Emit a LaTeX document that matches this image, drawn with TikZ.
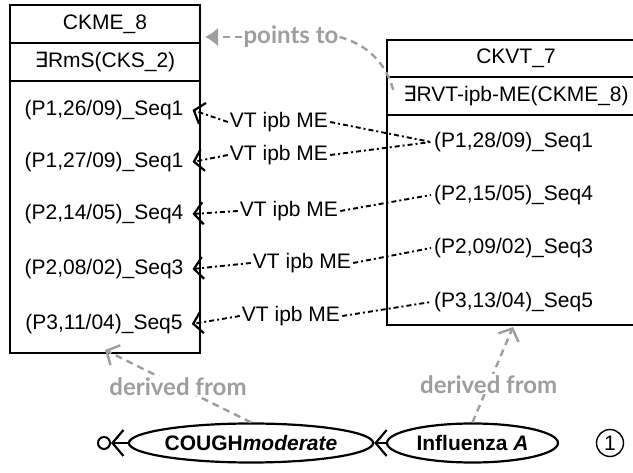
\documentclass[tikz,border=0pt]{standalone}
\usepackage{fontspec}
\setmainfont{Liberation Sans}
\newfontfamily\latofont{Lato}
\newfontfamily\symfont{DejaVu Sans}
\usetikzlibrary{arrows.meta,shapes.geometric}
\definecolor{lblgray}{RGB}{158,158,158}
\newcommand{\exsym}{{\symfont\char"2203}}
\begin{document}
\begin{tikzpicture}[x=1pt,y=-1pt,
    txt/.style={font=\fontsize{21}{24}\selectfont, inner sep=2pt},
    cell/.style={draw, line width=2.2pt, minimum width=#1, txt},
    lrow/.style={txt, inner xsep=9pt},
    rrow/.style={txt, inner xsep=3pt, anchor=west},
    vt/.style={line width=1.9pt, dash pattern=on 5pt off 3pt on 2pt off 3pt},
    barb/.style={-{Straight Barb[length=9pt,width=22pt,line width=2.2pt]}},
    glbl/.style={font=\latofont\bfseries\fontsize{24}{28}\selectfont, text=lblgray, fill=white, inner sep=1pt},
    gline/.style={draw=lblgray, line width=2.4pt, dash pattern=on 7pt off 5pt},
    ell/.style={ellipse, draw, line width=2.2pt, inner sep=0pt, minimum height=39pt, font=\bfseries\fontsize{21}{24}\selectfont},
    er/.style={line width=2pt, -{Straight Barb[length=11pt,width=26pt,line width=2.2pt]}}
]
    \clip (0,0) rectangle (633,473);

    % CKME_8
    \node[cell=190pt, minimum height=38pt] (ckme) at (105,24) {CKME\_8};
    \node[cell=190pt, minimum height=38pt] (rms) at (105,62) {\exsym RmS(CKS\_2)};
    \node[cell=190pt, minimum height=272pt] (ckmebody) at (105,217) {};
    \node[lrow] (r1) at (104,110) {(P1,26/09)\_Seq1};
    \node[lrow] (r2) at (104,162) {(P1,27/09)\_Seq1};
    \node[lrow] (r3) at (104,214) {(P2,14/05)\_Seq4};
    \node[lrow] (r4) at (104,269) {(P2,08/02)\_Seq3};
    \node[lrow] (r5) at (104,324) {(P3,11/04)\_Seq5};

    % CKVT_7
    \node[cell=258pt, minimum height=37pt] (ckvt) at (516,58.5) {CKVT\_7};
    \node[cell=258pt, minimum height=38pt] (rvt) at (516,96) {\exsym RVT-ipb-ME(CKME\_8)};
    \node[cell=258pt, minimum height=210pt] (ckvtbody) at (516,220) {};
    \node[rrow] (s1) at (431,142) {(P1,28/09)\_Seq1};
    \node[rrow] (s2) at (431,195) {(P2,15/05)\_Seq4};
    \node[rrow] (s3) at (431,248) {(P2,09/02)\_Seq3};
    \node[rrow] (s4) at (431,302) {(P3,13/04)\_Seq5};

    % VT ipb ME
    \node[txt] (v1) at (279,122) {VT ipb ME};
    \node[txt] (v2) at (279,155) {VT ipb ME};
    \node[txt] (v3) at (289,211) {VT ipb ME};
    \node[txt] (v4) at (302,263) {VT ipb ME};
    \node[txt] (v5) at (291,316) {VT ipb ME};
    \draw[vt, barb] (v1.west) -- (r1.east);
    \draw[vt, barb] (v2.west) -- (r2.east);
    \draw[vt, barb] (v3.west) -- (r3.east);
    \draw[vt, barb] (v4.west) -- (r4.east);
    \draw[vt, barb] (v5.west) -- (r5.east);
    \draw[vt] (v1.east) -- (s1.west);
    \draw[vt] (v2.east) -- (s1.west);
    \draw[vt] (v3.east) -- (s2.west);
    \draw[vt] (v4.east) -- (s3.west);
    \draw[vt] (v5.east) -- (s4.west);

    % points to
    \node[glbl] (pt) at (291,37) {points to};
    \coordinate (pttip) at (205,37);
    \coordinate (ptend) at (394,93);
    \draw[gline, -{Latex[length=13pt,width=19pt]}] (pt.west) -- (pttip);
    \draw[gline] (pt.east) .. controls (372,46) and (388,68) .. (ptend);

    % entites
    \node[ell, minimum width=224pt] (cough) at (251,443) {COUGH\textit{moderate}};
    \node[ell, minimum width=171pt] (infl) at (472.5,443) {Influenza \textit{A}};
    \node[circle, draw, line width=2pt, minimum size=12pt, inner sep=0pt] (zero) at (104,443) {};
    \node[circle, draw, line width=1.4pt, minimum size=27pt, inner sep=0pt, txt] (num) at (610,443) {1};
    \draw[er] (infl.west) -- (cough.east);
    \draw[er] (cough.west) -- (zero.east);

    % derived from
    \coordinate (ckmebot) at (105,350);
    \coordinate (ckvtbot) at (513,327);
    \draw[gline, -{Straight Barb[length=10pt,width=22pt,line width=2.4pt]}] (cough.north) -- node[glbl, pos=0.5] {derived from} (ckmebot);
    \draw[gline, -{Straight Barb[length=10pt,width=22pt,line width=2.4pt]}] (infl.north) -- node[glbl, pos=0.4] {derived from} (ckvtbot);
\end{tikzpicture}
\end{document}
